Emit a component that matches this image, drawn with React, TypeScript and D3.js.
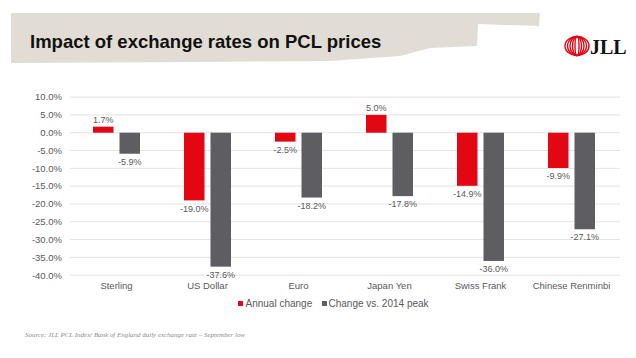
import React from "react";
import * as d3 from "d3";

const categories = ["Sterling", "US Dollar", "Euro", "Japan Yen", "Swiss Frank", "Chinese Renminbi"];
const seriesNames = ["Annual change", "Change vs. 2014 peak"];
const annualChange = [1.7, -19.0, -2.5, 5.0, -14.9, -9.9];
const peakChange = [-5.9, -37.6, -18.2, -17.8, -36.0, -27.1];
const yTicks = [10, 5, 0, -5, -10, -15, -20, -25, -30, -35, -40];
const seriesColors = ["#e30613", "#5e5e62"];

const W = 636;
const H = 358;

const locale = d3.formatLocale({ decimal: ".", thousands: ",", grouping: [3], currency: ["", ""], minus: "-" });

export default function App() {
  const x0 = d3.scaleBand<string>().domain(categories).range([71, 617]).padding(0);
  const pairWidth = 47;
  const x1 = d3
    .scaleBand<string>()
    .domain(seriesNames)
    .range([0, pairWidth])
    .paddingInner(0.226)
    .paddingOuter(0);
  const y = d3.scaleLinear().domain([-40, 10]).range([275.2, 97.1]);
  const f1 = locale.format(".1f");
  const fmt = (v: number) => f1(v) + "%";
  const data = [annualChange, peakChange];
  const textColor = "#595959";

  return (
    <svg
      width={W}
      height={H}
      style={{ position: "absolute", left: 0, top: 0, background: "#fff" }}
      fontFamily="Liberation Sans, Arial, sans-serif"
    >
      {/* title banner */}
      <path
        d="M11,13 L540,13 L539,26 L505,25 L478,24 L477,46 L430,48 L400,56 L330,61 L200,62 L11,63 Z"
        fill="#e1ddd4"
      />
      <text x={30} y={47.5} fontSize={18.5} fontWeight="bold" fill="#111">
        Impact of exchange rates on PCL prices
      </text>

      {/* logo */}
      <g fill="none" stroke="#e30613" strokeWidth={1.4}>
        {[12, 9.5, 7, 4.5, 2].map((rx) => (
          <ellipse key={rx} cx={577} cy={46} rx={rx} ry={9.5} />
        ))}
      </g>
      <text x={590} y={54} fontSize={20} fontWeight="bold" fontFamily="Liberation Serif, serif" fill="#111">
        JLL
      </text>

      {/* gridlines and y ticks */}
      {yTicks.map((t) => (
        <g key={t}>
          <line x1={70} x2={620} y1={y(t)} y2={y(t)} stroke="#dcdcdc" strokeWidth={0.8} />
          <text x={62} y={y(t)} dy="0.35em" textAnchor="end" fontSize={9.5} fill={textColor}>
            {fmt(t)}
          </text>
        </g>
      ))}

      {/* bars */}
      {categories.map((c, i) => {
        const start = (x0(c) as number) + x0.bandwidth() / 2 - pairWidth / 2;
        return (
          <g key={c}>
            {seriesNames.map((s, j) => {
              const v = data[j][i];
              const bx = start + (x1(s) as number);
              const top = y(Math.max(0, v));
              const h = Math.abs(y(v) - y(0));
              const ly = v >= 0 ? y(v) - 7 : y(v) + 8;
              return (
                <g key={s}>
                  <rect x={bx} y={top} width={x1.bandwidth()} height={h} fill={seriesColors[j]} />
                  <text
                    x={bx + x1.bandwidth() / 2}
                    y={ly}
                    dy="0.35em"
                    textAnchor="middle"
                    fontSize={9}
                    fill={textColor}
                  >
                    {fmt(v)}
                  </text>
                </g>
              );
            })}
            <text
              x={(x0(c) as number) + x0.bandwidth() / 2}
              y={285.5}
              dy="0.35em"
              textAnchor="middle"
              fontSize={9.5}
              fill={textColor}
            >
              {c}
            </text>
          </g>
        );
      })}

      {/* legend */}
      <g>
        <rect x={238} y={301} width={5} height={5} fill={seriesColors[0]} />
        <text x={245.5} y={303.7} dy="0.35em" fontSize={10} fill={textColor}>
          {seriesNames[0]}
        </text>
        <rect x={322} y={301} width={5} height={5} fill={seriesColors[1]} />
        <text x={328.5} y={303.7} dy="0.35em" fontSize={10} fill={textColor}>
          {seriesNames[1]}
        </text>
      </g>

      {/* source */}
      <text
        x={25}
        y={337}
        fontSize={6.5}
        fontStyle="italic"
        fontFamily="Liberation Serif, serif"
        fill="#8a8a8a"
        textLength={220}
        lengthAdjust="spacingAndGlyphs"
      >
        Source: JLL PCL Index/ Bank of England daily exchange rate – September low
      </text>
    </svg>
  );
}
